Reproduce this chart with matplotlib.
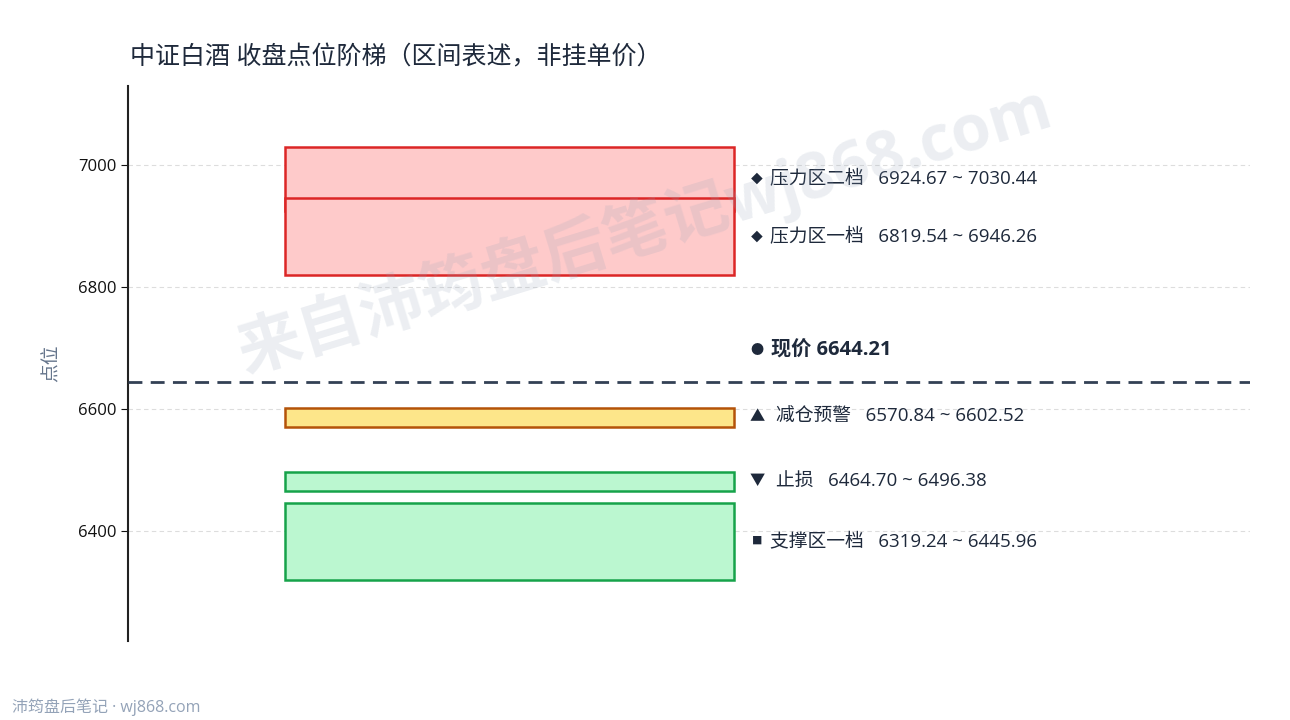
import matplotlib
matplotlib.use("Agg")
import matplotlib.pyplot as plt
from matplotlib.patches import Rectangle

plt.rcParams["font.family"] = ["Open Sans", "Noto Sans CJK SC", "DejaVu Sans"]

# Zones (low, high)
ZONE_NAMES = ["压力区二档", "压力区一档", "减仓预警", "止损", "支撑区一档"]
ZONE_LOW = [6924.67, 6819.54, 6570.84, 6464.70, 6319.24]
ZONE_HIGH = [7030.44, 6946.26, 6602.52, 6496.38, 6445.96]
ZONE_MARK = ["◆", "◆", "▲", "▼", "■"]
ZONE_FACE = ["#fecaca", "#fecaca", "#fde68a", "#bbf7d0", "#bbf7d0"]
ZONE_EDGE = ["#dc2626", "#dc2626", "#b45309", "#16a34a", "#16a34a"]

PRICE = 6644.21
TITLE = "中证白酒 收盘点位阶梯（区间表述，非挂单价）"

TEXT_COLOR = "#1e293b"
W, H = 1290, 720

fig = plt.figure(figsize=(12.9, 7.2), dpi=100)
ax = fig.add_axes([128 / W, 1 - 641 / H, 1122 / W, 555 / H])

x0, x1 = 0.14, 0.54
mark_x = 0.5606
mark_size = {"◆": 8.5, "▲": 11, "▼": 11, "■": 7.5}
for name, lo, hi, mk, fc, ec in zip(ZONE_NAMES, ZONE_LOW, ZONE_HIGH,
                                    ZONE_MARK, ZONE_FACE, ZONE_EDGE):
    ax.add_patch(Rectangle((x0, lo), x1 - x0, hi - lo, facecolor=fc,
                           edgecolor=ec, linewidth=1.8, zorder=3))
    mid = (lo + hi) / 2
    big = mk in ("▲", "▼")
    ax.text(mark_x, mid, mk, va="center", ha="center",
            fontsize=mark_size[mk], color=TEXT_COLOR, zorder=4)
    ax.text(0.5775 if big else 0.572, mid,
            "{}   {:.2f} ~ {:.2f}".format(name, lo, hi),
            va="center", ha="left", fontsize=13.5, color=TEXT_COLOR, zorder=4)

ax.axhline(PRICE, color="#334155", linestyle=(0, (5, 3)), linewidth=2, zorder=4)
ax.text(mark_x, PRICE + 52, "●", va="center", ha="center", fontsize=9.5,
        color=TEXT_COLOR, zorder=4)
ax.text(0.573, PRICE + 52, "现价 {:.2f}".format(PRICE), va="center", ha="left",
        fontsize=14.5, fontweight="bold", color=TEXT_COLOR, zorder=4)

ax.set_xlim(0, 1)
ax.set_ylim(min(ZONE_LOW) - 100, max(ZONE_HIGH) + 100)
ax.set_yticks([6400, 6600, 6800, 7000])
ax.tick_params(axis="y", labelsize=12, colors="#111111", length=5)
ax.tick_params(axis="x", bottom=False, labelbottom=False)
ax.grid(axis="y", color="#dddddd", linestyle=(0, (4, 3)), linewidth=0.8, zorder=0)
for s in ["top", "right", "bottom"]:
    ax.spines[s].set_visible(False)
ax.spines["left"].set_color("#222222")
ax.spines["left"].set_linewidth(1.5)
ax.set_ylabel("点位", fontsize=13.5, color="#64748b", labelpad=12)

fig.text(130 / W, 1 - 58 / H, TITLE, fontsize=18, color=TEXT_COLOR,
         ha="left", va="center")

# watermark
fig.text(645 / W, 1 - 230 / H, "来自沛筠盘后笔记wj868.com", fontsize=46,
         fontweight="bold", color="#94a3b8", alpha=0.18, rotation=17,
         ha="center", va="center", zorder=10)

fig.text(12 / W, 1 - 707 / H, "沛筠盘后笔记 · wj868.com", fontsize=11.5,
         color="#94a3b8", ha="left", va="center")

fig.savefig("out.png", dpi=100)
